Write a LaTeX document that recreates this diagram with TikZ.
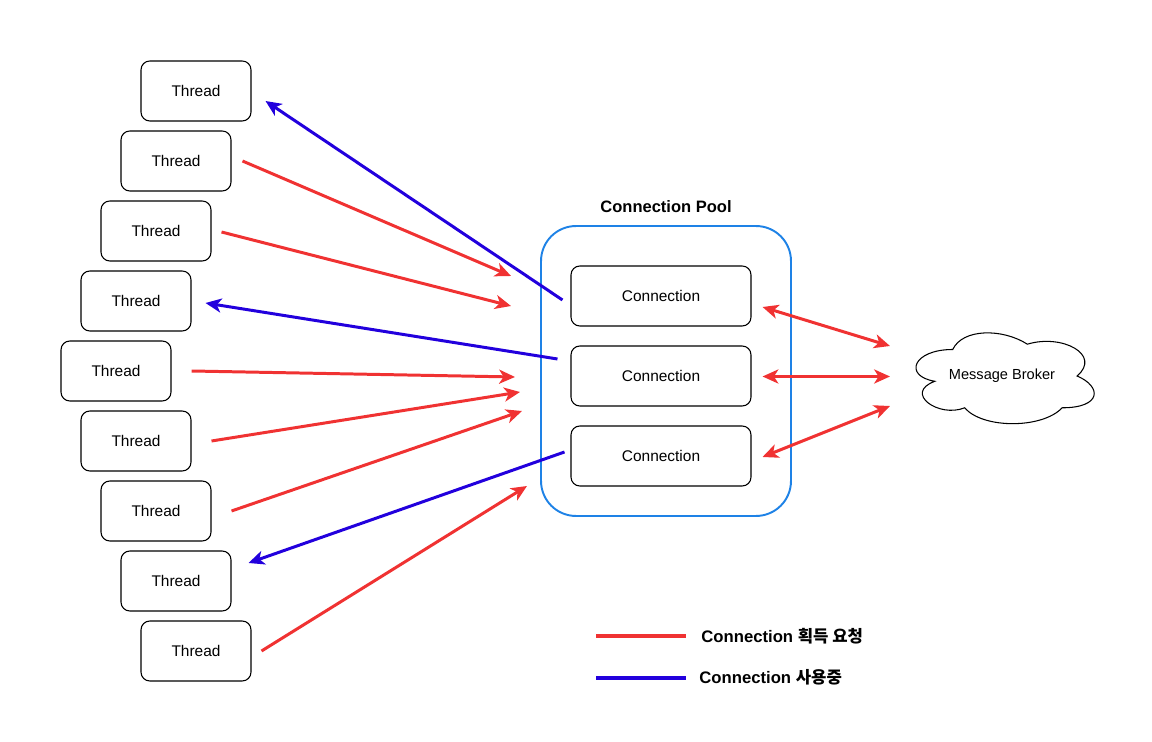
\documentclass[tikz,border=0pt]{standalone}
\usepackage{fontspec}
\setmainfont{Liberation Sans}
\newfontfamily\krfont{Noto Sans CJK KR}
\usetikzlibrary{arrows.meta}
\definecolor{reqred}{RGB}{240,50,50}
\definecolor{useblue}{RGB}{34,0,221}
\definecolor{poolblue}{RGB}{30,130,230}
\begin{document}
\begin{tikzpicture}
[x=0.02cm,y=-0.02cm,
  threadbox/.style={shape=rectangle,draw,line width=0.6pt,rounded corners=5pt,
    minimum width=2.2cm,minimum height=1.2cm,font=\fontsize{8.8}{10}\selectfont},%
  connbox/.style={threadbox,minimum width=3.6cm},%
  poolbox/.style={shape=rectangle,draw=poolblue,line width=1.1pt,rounded corners=0.7cm,
    minimum width=5cm,minimum height=5.8cm},%
  reqline/.style={-{Stealth[length=9pt,width=8pt,inset=2.5pt]},reqred,line width=1.7pt},%
  useline/.style={-{Stealth[length=9pt,width=8pt,inset=2.5pt]},useblue,line width=1.7pt},%
  bothline/.style={{Stealth[length=9pt,width=8pt,inset=2.5pt]}-{Stealth[length=9pt,width=8pt,inset=2.5pt]},reqred,line width=1.7pt},%
  legendtext/.style={anchor=west,inner xsep=0pt,font=\bfseries\fontsize{9.5}{11}\selectfont}]
\useasboundingbox (0,0) rectangle (1152,742);
%%% threads
% nodes or vertices
\node (t1) at (196,91) [threadbox] {Thread};
\node (t2) at (176,161) [threadbox] {Thread};
\node (t3) at (156,231) [threadbox] {Thread};
\node (t4) at (136,301) [threadbox] {Thread};
\node (t5) at (116,371) [threadbox] {Thread};
\node (t6) at (136,441) [threadbox] {Thread};
\node (t7) at (156,511) [threadbox] {Thread};
\node (t8) at (176,581) [threadbox] {Thread};
\node (t9) at (196,651) [threadbox] {Thread};
%
%%% connection pool
\node (pool) at (666,371) [poolbox] {};
\node (pooltitle) at (666,207) [font=\bfseries\fontsize{9.4}{11}\selectfont] {Connection Pool};
\node (c1) at (661,296) [connbox] {Connection};
\node (c2) at (661,376) [connbox] {Connection};
\node (c3) at (661,456) [connbox] {Connection};
%
%%% message broker (cloud)
\begin{scope}[shift={(903,323)},x=3.98cm,y=-2.12cm]
\draw[line width=0.6pt] (0.25,0.25) .. controls (0.05,0.25) and (0,0.5) .. (0.16,0.55)
  .. controls (0,0.66) and (0.18,0.9) .. (0.31,0.8)
  .. controls (0.4,1) and (0.7,1) .. (0.8,0.8)
  .. controls (1,0.8) and (1,0.6) .. (0.875,0.5)
  .. controls (1,0.3) and (0.8,0.1) .. (0.625,0.2)
  .. controls (0.5,0.05) and (0.3,0.05) .. (0.25,0.25) -- cycle;
\end{scope}
\node (broker) at (1002,376) [font=\fontsize{8.3}{10}\selectfont] {Message Broker};
%
% free ends of the requests
\coordinate (p2) at (511,276);
\coordinate (p3) at (511,306);
\coordinate (p5) at (515,377);
\coordinate (p6) at (520,392);
\coordinate (p7) at (522,411);
\coordinate (p9) at (527,486);
% edges or lines
\path
([shift={(11,0)}]t2.east) edge[reqline] (p2)
([shift={(10,1)}]t3.east) edge[reqline] (p3)
([shift={(20,0)}]t5.east) edge[reqline] (p5)
([shift={(20,0)}]t6.east) edge[reqline] (p6)
([shift={(20,0)}]t7.east) edge[reqline] (p7)
([shift={(10,0)}]t9.east) edge[reqline] (p9)
([shift={(-8,4)}]c1.west) edge[useline] ([shift={(14,10)}]t1.east)
([shift={(-13,-17)}]c2.west) edge[useline] ([shift={(14,2)}]t4.east)
([shift={(-6,-4)}]c3.west) edge[useline] ([shift={(17,-18)}]t8.east)
([shift={(11,11)}]c1.east) edge[bothline] ([shift={(-112,-30)}]broker.center)
([shift={(11,0.5)}]c2.east) edge[bothline] ([shift={(-112,0.5)}]broker.center)
([shift={(11,1)}]c3.east) edge[bothline] ([shift={(-112,30)}]broker.center);
%
%%% legend
\coordinate (lr1) at (596,636);
\coordinate (lr2) at (686,636);
\coordinate (lb1) at (596,678);
\coordinate (lb2) at (686,678);
\draw[reqred,line width=2.8pt] (lr1) -- (lr2);
\draw[useblue,line width=2.8pt] (lb1) -- (lb2);
\node (legreq) at (701,636) [legendtext] {Connection {\krfont\bfseries 획득 요청}};
\node (leguse) at (699,677) [legendtext] {Connection {\krfont\bfseries 사용중}};
\end{tikzpicture}
\end{document}
